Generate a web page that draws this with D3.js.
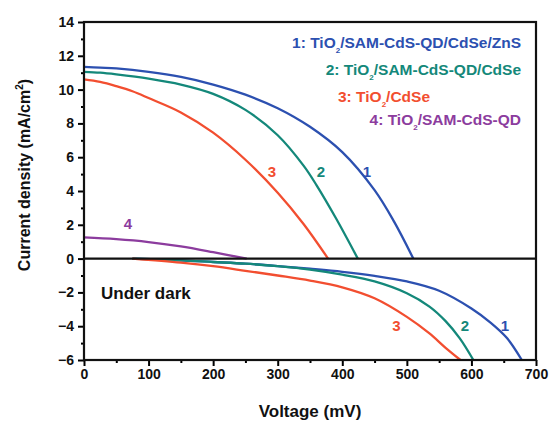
<!DOCTYPE html>
<html>
<head>
<meta charset="utf-8">
<script src="https://cdn.jsdelivr.net/npm/d3@7"></script>
<style>
  body { margin: 0; background: #fff; }
  svg text { font-family: "Liberation Sans", Arial, sans-serif; font-weight: bold; }
</style>
</head>
<body>
<svg id="chart" width="552" height="424"></svg>
<script>
// J-V curves: [voltage mV, current density mA/cm2]
var light1 = [[0,11.35],[25,11.3],[50,11.25],[100,11.05],[150,10.75],[200,10.3],[250,9.7],[300,8.9],[350,7.8],[400,6.3],[450,4.05],[480,2.2],[510,0]];
var light2 = [[0,11.05],[25,11.0],[50,10.9],[100,10.65],[150,10.3],[200,9.75],[250,8.8],[300,7.3],[340,5.5],[360,4.35],[390,2.4],[424,0]];
var light3 = [[0,10.6],[25,10.45],[50,10.2],[75,9.9],[100,9.5],[150,8.65],[200,7.45],[250,5.85],[300,3.9],[340,2.05],[378,0]];
var light4 = [[0,1.25],[50,1.15],[100,0.98],[150,0.72],[200,0.38],[252,0]];
var dark1 = [[75,0],[150,-0.1],[200,-0.2],[250,-0.3],[300,-0.44],[350,-0.6],[400,-0.78],[450,-1.02],[500,-1.35],[550,-1.9],[600,-2.95],[630,-3.8],[655,-4.7],[678,-6]];
var dark2 = [[75,0],[150,-0.1],[200,-0.2],[250,-0.3],[300,-0.45],[350,-0.65],[400,-0.95],[450,-1.35],[500,-2.05],[535,-2.84],[560,-3.7],[582,-4.72],[603,-6]];
var dark3 = [[75,0],[150,-0.24],[200,-0.45],[250,-0.72],[300,-1.0],[350,-1.3],[400,-1.7],[450,-2.35],[500,-3.45],[535,-4.43],[560,-5.28],[583,-6]];

var seriesColors = ["#2c50b0", "#14887a", "#f24e30", "#8c3c9e"];
var legendLabels = [
  ["1: TiO", "2", "/SAM-CdS-QD/CdSe/ZnS"],
  ["2: TiO", "2", "/SAM-CdS-QD/CdSe"],
  ["3: TiO", "2", "/CdSe"],
  ["4: TiO", "2", "/SAM-CdS-QD"]
];
// curve number tags: [series index, voltage, current]
var curveTags = [[0,438,4.8],[1,367,4.8],[2,291,4.8],[3,68,1.75],[2,484,-4.3],[1,590,-4.3],[0,652,-4.3]];

var xTicks = [0,100,200,300,400,500,600,700];
var yTicks = [-6,-4,-2,0,2,4,6,8,10,12,14];

var margin = {top: 22, right: 16, bottom: 64, left: 84};
var width = 552 - margin.left - margin.right;
var height = 424 - margin.top - margin.bottom;

var svg = d3.select("#chart");
var g = svg.append("g").attr("transform", "translate(" + margin.left + "," + margin.top + ")");

var x = d3.scaleLinear().domain([0, 700]).range([0, width]);
var y = d3.scaleLinear().domain([-6, 14]).range([height, 0]);

// minor ticks first, then major with labels
g.append("g").attr("transform", "translate(0," + height + ")")
  .call(d3.axisBottom(x).tickValues(d3.range(50, 700, 100)).tickSize(3).tickFormat(""));
g.append("g").call(d3.axisLeft(y).tickValues(d3.range(-5, 14, 2)).tickSize(3).tickFormat(""));

g.append("g").attr("transform", "translate(0," + height + ")")
  .call(d3.axisBottom(x).tickValues(xTicks).tickSize(6).tickPadding(3).tickFormat(d3.format("d")));
g.append("g")
  .call(d3.axisLeft(y).tickValues(yTicks).tickSize(6).tickPadding(4).tickFormat(d3.format("d")));

g.selectAll(".tick line").attr("stroke", "#000").attr("stroke-width", 2);
g.selectAll(".domain").remove();
g.selectAll(".tick text").style("font-size", "14px").attr("fill", "#111");

var line = d3.line().x(function(d){ return x(d[0]); }).y(function(d){ return y(d[1]); })
  .curve(d3.curveCatmullRom.alpha(0.5));

var curves = [[light1,0],[light2,1],[light3,2],[light4,3],[dark1,0],[dark2,1],[dark3,2]];
g.selectAll("path.iv").data(curves).enter().append("path")
  .attr("class", "iv")
  .attr("d", function(d){ return line(d[0]); })
  .attr("fill", "none")
  .attr("stroke", function(d){ return seriesColors[d[1]]; })
  .attr("stroke-width", 2.3);

// zero line and frame
g.append("line").attr("x1", 0).attr("x2", width).attr("y1", y(0)).attr("y2", y(0))
  .attr("stroke", "#111").attr("stroke-width", 2.2);
g.append("rect").attr("width", width).attr("height", height)
  .attr("fill", "none").attr("stroke", "#111").attr("stroke-width", 2.2);

// legend
var leg = g.selectAll("text.leg").data(legendLabels).enter().append("text")
  .attr("class", "leg")
  .attr("x", function(d, i){ return i === 2 ? 254 : width - 15; })
  .attr("y", function(d, i){ return [26, 53, 80, 103][i]; })
  .attr("text-anchor", function(d, i){ return i === 2 ? "start" : "end"; })
  .style("font-size", "15.5px")
  .attr("fill", function(d, i){ return seriesColors[i]; });
leg.append("tspan").text(function(d){ return d[0]; });
leg.append("tspan").attr("dy", 5).style("font-size", "8px").text(function(d){ return d[1]; });
leg.append("tspan").attr("dy", -5).text(function(d){ return d[2]; });

g.selectAll("text.tag").data(curveTags).enter().append("text")
  .attr("class", "tag")
  .attr("x", function(d){ return x(d[1]); })
  .attr("y", function(d){ return y(d[2]); })
  .attr("text-anchor", "middle")
  .style("font-size", "15px")
  .attr("fill", function(d){ return seriesColors[d[0]]; })
  .text(function(d){ return d[0] + 1; });

g.append("text").attr("x", 17).attr("y", y(-2) + 7)
  .style("font-size", "17px").attr("fill", "#111").text("Under dark");

// axis titles
svg.append("text").attr("x", margin.left + width / 2).attr("y", 417)
  .attr("text-anchor", "middle").style("font-size", "17px").attr("fill", "#111")
  .text("Voltage (mV)");
var yt = svg.append("text")
  .attr("transform", "translate(30,175) rotate(-90)")
  .attr("text-anchor", "middle").style("font-size", "16px").attr("fill", "#111");
yt.append("tspan").text("Current density (mA/cm");
yt.append("tspan").attr("dy", -7).style("font-size", "10px").text("2");
yt.append("tspan").attr("dy", 7).text(")");
</script>
</body>
</html>
